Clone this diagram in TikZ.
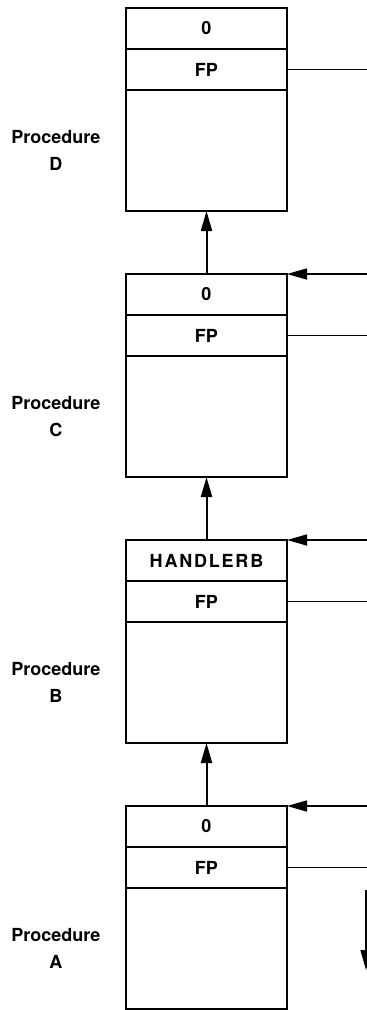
\documentclass[tikz,border=0pt]{standalone}
\usepackage{fontspec}
\setmainfont{TeX Gyre Heros}
\newfontfamily\spaced[LetterSpace=10]{TeX Gyre Heros}
\usetikzlibrary{arrows.meta,positioning}

\tikzset{
  slot/.style={draw, line width=1.8pt, minimum width=161pt, minimum height=41pt,
    inner sep=0pt, outer sep=0pt, font=\fontsize{18}{22}\selectfont\bfseries},
  body/.style={slot, minimum height=121pt},
  proc/.style={align=center, font=\fontsize{18}{27}\selectfont\bfseries},
  link/.style={-{Triangle[length=20pt,width=11pt]}, line width=2pt},
  back/.style={-{Triangle[length=20pt,width=11pt]}, line width=1.5pt},
  fpline/.style={line width=1.3pt}
}

\begin{document}
\begin{tikzpicture}[x=1pt,y=-1pt]
    \useasboundingbox (0,0) rectangle (367,1010);
    \coordinate (edge) at (367,0);
    % one frame per procedure
    \foreach \p/\t/\y in {D/0/28.5, C/0/294.5, B/{\spaced\bfseries HANDLERB}/560.5, A/0/826.5} {
      \node[slot] (top\p) at (206.5,\y) {\t};
      \node[slot, below=0pt of top\p] (fp\p) {FP};
      \node[body, below=0pt of fp\p] (body\p) {};
      \node[proc, left=22pt of body\p] (lab\p) {Procedure\\\p};
      \coordinate (fpend\p) at (fp\p.east -| edge);
      \draw[fpline] (fp\p.east) -- (fpend\p);
    }
    % chain of frames
    \draw[link] (topC.north) -- (bodyD.south);
    \draw[link] (topB.north) -- (bodyC.south);
    \draw[link] (topA.north) -- (bodyB.south);
    % returns into the frames
    \foreach \p in {C,B,A} {
      \coordinate (ret\p) at (top\p.north east -| edge);
      \draw[back] (ret\p) -- (top\p.north east);
    }
    \coordinate (downtop) at (366,890);
    \coordinate (downend) at (366,970);
    \draw[back] (downtop) -- (downend);
\end{tikzpicture}
\end{document}
